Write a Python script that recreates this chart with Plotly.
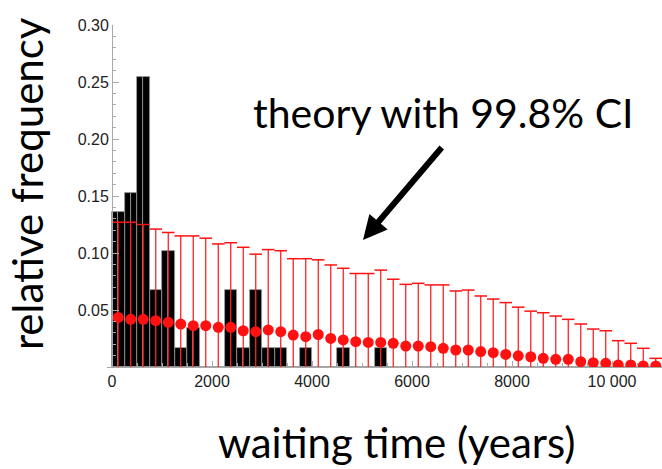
import plotly.graph_objects as go

# ---- data ----
bin_width = 250  # years
bin_centers = [125 + 250 * i for i in range(44)]

# observed relative frequencies (histogram)
observed = [0.1356, 0.1525, 0.2542, 0.0678, 0.1017, 0.0169, 0.0339, 0, 0,
            0.0678, 0.0169, 0.0678, 0.0169, 0.0169, 0, 0.0169, 0, 0,
            0.0169, 0, 0, 0.0169] + [0] * 22

# theory: expected relative frequency
theory = [0.0435, 0.0418, 0.0418, 0.0406, 0.0392, 0.0377, 0.0362, 0.0362,
          0.0348, 0.0348, 0.0318, 0.0310, 0.0325, 0.0310, 0.0280, 0.0266,
          0.0285, 0.0251, 0.0237, 0.0222, 0.0216, 0.0216, 0.0208, 0.0184,
          0.0184, 0.0178, 0.0164, 0.0149, 0.0149, 0.0135, 0.0126, 0.0110,
          0.0098, 0.0090, 0.0076, 0.0067, 0.0067, 0.0046, 0.0038, 0.0032,
          0.0018, 0.0018, 0.0009, 0.0009]

# upper limit of 99.8% CI (lower limit is 0)
ci_upper = [0.127, 0.127, 0.125, 0.121, 0.118, 0.115, 0.115, 0.113, 0.108,
            0.109, 0.105, 0.099, 0.103, 0.102, 0.095, 0.095, 0.094, 0.0895,
            0.0866, 0.082, 0.082, 0.085, 0.077, 0.0725, 0.0734, 0.072, 0.072,
            0.0667, 0.0675, 0.0623, 0.0596, 0.0565, 0.0525, 0.049, 0.0476,
            0.0447, 0.0418, 0.0377, 0.0333, 0.0318, 0.0231, 0.0208, 0.0164,
            0.0076]

x_tickvals = [0, 2000, 4000, 6000, 8000, 10000]
x_ticktext = ["0", "2000", "4000", "6000", "8000", "10 000"]
y_tickvals = [0.05, 0.10, 0.15, 0.20, 0.25, 0.30]
y_ticktext = ["0.05", "0.10", "0.15", "0.20", "0.25", "0.30"]

RED = "#ff1111"
AXIS = "#a8a8a8"
TITLE_FONT = "Lato"

fig = go.Figure()

# histogram bars (drawn as two halves per bin)
half = bin_width / 2
for shift in (-half / 2, half / 2):
    fig.add_trace(go.Bar(
        x=[c + shift for c in bin_centers], y=observed, width=half,
        marker=dict(color="black", line=dict(color="#9a9a9a", width=0.8)),
        showlegend=False, hoverinfo="skip"))

# theory CI stems + points
fig.add_trace(go.Scatter(
    x=bin_centers, y=theory, mode="markers",
    marker=dict(color=RED, size=11, line=dict(width=0)),
    error_y=dict(type="data", symmetric=False,
                 array=[u - t for u, t in zip(ci_upper, theory)],
                 arrayminus=theory, color=RED, thickness=1.2, width=0),
    showlegend=False))
# CI caps
fig.add_trace(go.Scatter(
    x=bin_centers, y=ci_upper, mode="markers",
    marker=dict(symbol="line-ew", size=9, line=dict(color=RED, width=1.5)),
    showlegend=False))

fig.update_layout(
    width=662, height=469,
    margin=dict(l=107, r=0, t=25, b=102),
    plot_bgcolor="white", paper_bgcolor="white",
    barmode="overlay", bargap=0,
    xaxis=dict(range=[-100, 11000], tickvals=x_tickvals, ticktext=x_ticktext,
               ticks="inside", ticklen=6, tickcolor=AXIS, tickwidth=1,
               minor=dict(dtick=500, tick0=0, ticks="inside", ticklen=4,
                          tickcolor=AXIS),
               showline=True, linecolor=AXIS, linewidth=1,
               showgrid=False, zeroline=False,
               tickfont=dict(family="Liberation Sans", size=16, color="#222")),
    yaxis=dict(range=[0, 0.30], tickvals=y_tickvals, ticktext=y_ticktext,
               anchor="free", position=100 / 11100,
               ticks="inside", ticklen=6, tickcolor=AXIS, tickwidth=1,
               minor=dict(dtick=0.01, tick0=0, ticks="inside", ticklen=3,
                          tickcolor=AXIS),
               showline=True, linecolor=AXIS, linewidth=1,
               showgrid=False, zeroline=False,
               tickfont=dict(family="Liberation Sans", size=16, color="#222")),
    annotations=[
        dict(text="relative frequency", xref="paper", yref="paper",
             x=-0.144, y=0.535, textangle=-90, showarrow=False,
             xanchor="center", yanchor="middle",
             font=dict(family=TITLE_FONT, size=42, color="black")),
        dict(text="waiting time (years)", xref="paper", yref="paper",
             x=0.5225, y=(367 - 468) / 342, showarrow=False,
             xanchor="center", yanchor="bottom", borderpad=0,
             font=dict(family=TITLE_FONT, size=42, color="black")),
        dict(text="theory with 99.8% CI", xref="paper", yref="paper",
             x=0.607, y=0.7456, showarrow=False,
             xanchor="center", yanchor="middle",
             font=dict(family=TITLE_FONT, size=41, color="black")),
        dict(text="", xref="x", yref="y", x=5020, y=0.1114,
             ax=80, ay=-94, showarrow=True, arrowhead=2, arrowsize=0.8,
             arrowwidth=6, arrowcolor="black"),
    ],
)

fig.write_html("out.html", config={"displayModeBar": False},
               post_script="document.body.style.margin='0px';")
